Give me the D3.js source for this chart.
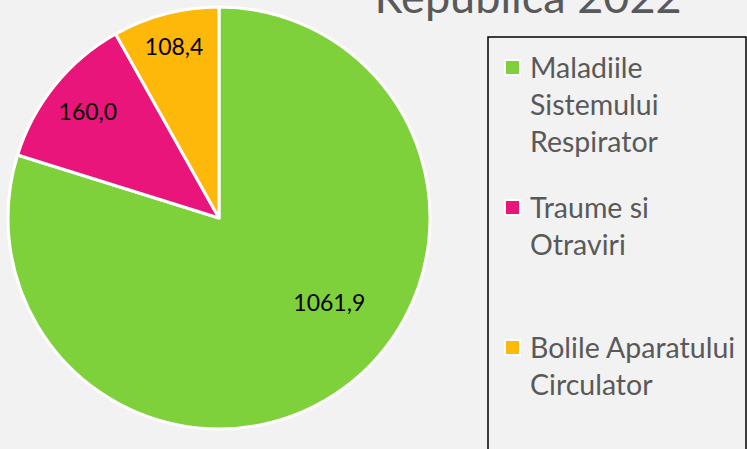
<!DOCTYPE html>
<html>
<head>
<meta charset="utf-8">
<script src="https://cdn.jsdelivr.net/npm/d3@7"></script>
<style>
  html, body { margin: 0; padding: 0; background: #f2f2f2; }
  svg { display: block; font-family: Lato, "Open Sans", sans-serif; }
</style>
</head>
<body>
<div id="chart"></div>
<script>
// chart data
const categories = ["Maladiile Sistemului Respirator", "Traume si Otraviri", "Bolile Aparatului Circulator"];
const values = [1061.9, 160.0, 108.4];
const valueLabels = ["1061,9", "160,0", "108,4"];
const legendLines = [["Maladiile", "Sistemului", "Respirator"], ["Traume si", "Otraviri"], ["Bolile Aparatului", "Circulator"]];
const colors = ["#7fd13b", "#ea157a", "#feb80a"];
const title = "Republica 2022";

const width = 747, height = 449;
const cx = 219, cy = 218, radius = 211;

const svg = d3.select("#chart").append("svg")
  .attr("width", width)
  .attr("height", height);

svg.append("rect")
  .attr("width", width)
  .attr("height", height)
  .attr("fill", "#f2f2f2");

// title (only the bottom line is visible in the frame)
svg.append("text")
  .attr("x", 528)
  .attr("y", 13)
  .attr("text-anchor", "middle")
  .attr("fill", "#595959")
  .style("font-size", "45px")
  .text(title);

const pie = d3.pie().sort(null).value(d => d);
const arcs = pie(values);

const arc = d3.arc().innerRadius(0).outerRadius(radius);

const g = svg.append("g")
  .attr("transform", `translate(${cx},${cy})`);

g.selectAll("path.slice")
  .data(arcs)
  .enter().append("path")
    .attr("class", "slice")
    .attr("d", arc)
    .attr("fill", (d, i) => colors[i])
    .attr("stroke", "#fff")
    .attr("stroke-width", 3)
    .attr("stroke-linejoin", "round");

// data labels inside slices (best-fit style: big slice label pulled toward the open side)
const labelPos = d => {
  let a = (d.startAngle + d.endAngle) / 2;
  let r = radius * 0.8;
  if (d.index === 0) { a -= 0.28; r = radius * 0.66; }
  if (d.index === 2) r = radius * 0.84;
  return [Math.sin(a) * r, -Math.cos(a) * r];
};

g.selectAll("text.label")
  .data(arcs)
  .enter().append("text")
    .attr("class", "label")
    .attr("transform", d => `translate(${labelPos(d)})`)
    .attr("text-anchor", "middle")
    .attr("dy", "0.36em")
    .attr("fill", "#000")
    .style("font-size", "23px")
    .text((d, i) => valueLabels[i]);

// legend box
svg.append("rect")
  .attr("x", 488)
  .attr("y", 37)
  .attr("width", 258)
  .attr("height", 430)
  .attr("fill", "none")
  .attr("stroke", "#000")
  .attr("stroke-width", 1.5);

const legendTop = [78, 218, 358];
const lineGap = 37;

const legend = svg.selectAll("g.legend")
  .data(categories)
  .enter().append("g")
    .attr("class", "legend")
    .attr("transform", (d, i) => `translate(0,${legendTop[i]})`);

legend.append("rect")
  .attr("x", 505)
  .attr("y", -18)
  .attr("width", 15)
  .attr("height", 15)
  .attr("fill", (d, i) => colors[i])
  .attr("stroke", "#fff")
  .attr("stroke-width", 2);

legend.append("text")
  .attr("x", 530)
  .attr("fill", "#595959")
  .style("font-size", "28.5px")
  .selectAll("tspan")
  .data((d, i) => legendLines[i])
  .enter().append("tspan")
    .attr("x", 530)
    .attr("y", (d, j) => j * lineGap)
    .text(d => d);
</script>
</body>
</html>
